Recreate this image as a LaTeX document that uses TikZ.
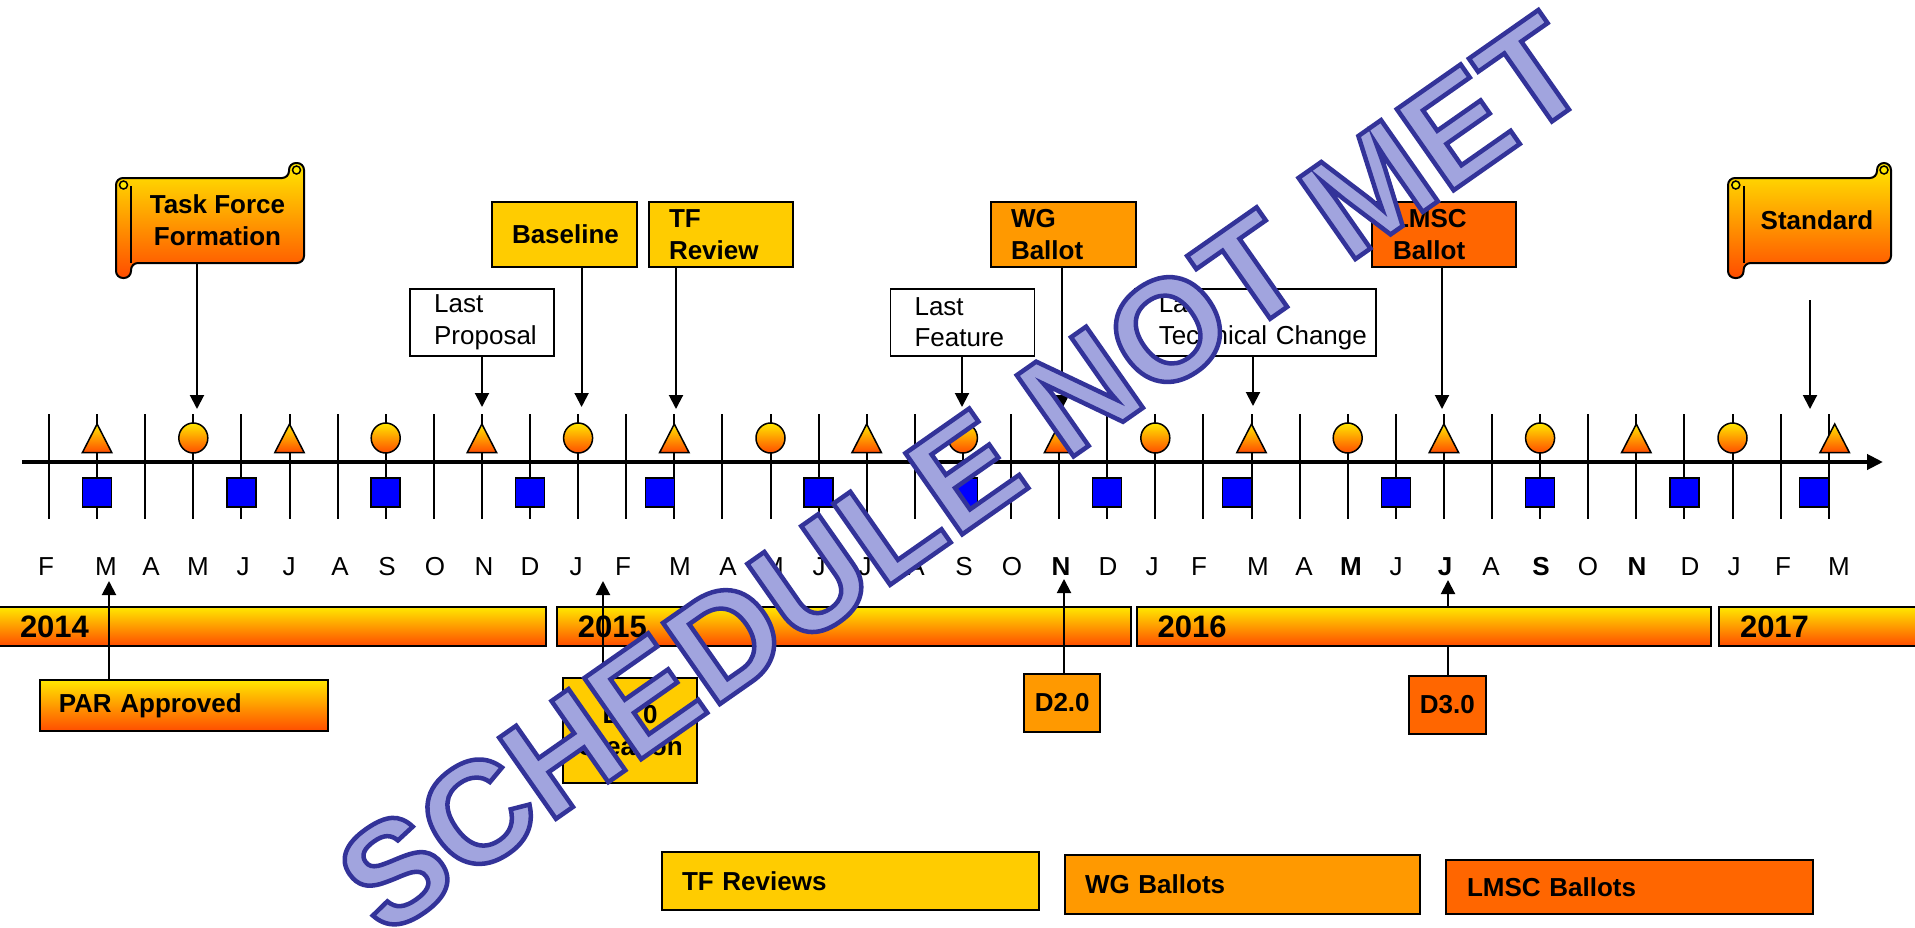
\documentclass[tikz,border=0pt]{standalone}
\usepackage{fontspec}
\setmainfont{Liberation Sans}
\usetikzlibrary{arrows.meta}
\definecolor{TlGold}{HTML}{FFCC00}
\definecolor{TlOrange}{HTML}{FF9900}
\definecolor{TlRed}{HTML}{FF6600}
\definecolor{TlYellow}{HTML}{FFE800}
\definecolor{TlFlame}{HTML}{FF4C00}
\definecolor{TlBlue}{HTML}{0000FF}
\definecolor{TlLilac}{HTML}{A1A4DE}
\definecolor{TlNavy}{HTML}{333399}
% filled and stroked letters for the stamp
\newcommand\wmoutline[1]{\special{pdf:literal direct 0.631 0.643 0.871 rg 0.2 0.2 0.6 RG 4.5 w 2 Tr}#1\special{pdf:literal direct 0 Tr}}

\begin{document}
\begin{tikzpicture}[
    x=1pt, y=-1pt,
    mtick/.style={line width=2pt},
    axisline/.style={line width=4.3pt, -{Triangle[length=16pt,width=15pt]}},
    hot/.style={top color=TlYellow, bottom color=TlFlame},
    marker/.style={draw=black, line width=1.5pt},
    box/.style={
      anchor=north west,
      draw=black,
      line width=2pt,
      inner ysep=0pt,
      inner xsep=20pt,
      align=left,
      font=\fontsize{26}{32.3}\selectfont\bfseries
    },
    card/.style={box, minimum height=64.7pt},
    note/.style={box, fill=white, line width=1.5pt, inner xsep=24pt,
      minimum height=67pt, text width=96pt,
      font=\fontsize{26}{31.7}\selectfont},
    yearbar/.style={box, hot, inner xsep=21pt, minimum height=39pt,
      font=\fontsize{31}{36}\selectfont\bfseries},
    scrolltext/.style={inner sep=0pt, minimum height=86pt, align=center,
      font=\fontsize{26}{32.3}\selectfont\bfseries},
    month/.style={font=\fontsize{26}{30}\selectfont, inner sep=0pt,
      text height=18.6pt, text depth=0pt},
    arr/.style={line width=2pt, -{Triangle[length=14pt,width=14pt]}},
    wmark/.style={rotate=35, inner sep=0pt, text=TlLilac,
      font=\fontsize{144}{150}\selectfont\bfseries}
  ]

  \fill[white] (0,0) rectangle (1915,927);
  \useasboundingbox (0,0) rectangle (1915,927);

  % month grid and time axis
  \foreach \k in {0,...,37} {
    \pgfmathsetmacro\mx{49+48.1*\k}
    \draw[mtick] (\mx,414) -- (\mx,519);
  }
  \coordinate (axL) at (22,462);
  \coordinate (axR) at (1883,462);
  \draw[axisline] (axL) -- (axR);

  % markers above and below the axis
  \foreach \k/\dx in {1/0,5/0,9/0,13/0,17/0,21/0,25/0,29/0,33/0,37/6} {
    \pgfmathsetmacro\mx{49+48.1*\k+\dx}
    \draw[marker, hot] (\mx-14.75,452.7) -- (\mx,424) -- (\mx+14.75,452.7) -- cycle;
  }
  \foreach \k in {3,7,...,35} {
    \pgfmathsetmacro\mx{49+48.1*\k}
    \draw[marker, hot] (\mx,438) ellipse [x radius=14.5, y radius=15];
  }
  \foreach \k/\dx in {1/0,4/0,7/0,10/0,13/-14.5,16/0,19/0,22/0,25/-14.5,28/0,31/0,34/0,37/-14.5} {
    \pgfmathsetmacro\mx{49+48.1*\k+\dx}
    \draw[marker, fill=TlBlue] (\mx-14.5,478) rectangle (\mx+14.5,507);
  }

  % month letters
  \foreach \m/\mx [count=\k from 0] in {F/46,M/106,A/151,M/198,J/243,J/289,A/340,S/387,O/435,N/484,D/530,
      J/576,F/623,M/680,A/728,M/773,J/819,J/865,A/916,S/964,O/1012,\textbf{N}/1061,D/1108,
      J/1152,F/1199,M/1258,A/1304,\textbf{M}/1351,J/1396,\textbf{J}/1445,A/1491,\textbf{S}/1541,O/1588,\textbf{N}/1637,D/1690,
      J/1734,F/1783,M/1839}
    \node[month] (mo\k) at (\mx,566) {\m};

  % scroll banners
  \draw[hot, line width=2pt, rounded corners=7pt] (116,278) -- (116,178) -- (289,178) -- (289,163) -- (304,163) -- (304,263) -- (131,263) -- (131,278) -- cycle;
  \draw[line width=2pt] (131,186) -- (131,263);
  \draw[line width=1.5pt, fill=TlYellow] (123.5,185) circle [radius=4];
  \draw[line width=1.5pt, fill=TlYellow] (296.5,170) circle [radius=4];

  \draw[hot, line width=2pt, rounded corners=7pt] (1728,278) -- (1728,178) -- (1877,178) -- (1877,163) -- (1891,163) -- (1891,263) -- (1743.6,263) -- (1743.6,278) -- cycle;
  \draw[line width=2pt] (1743.6,186) -- (1743.6,263);
  \draw[line width=1.5pt, fill=TlYellow] (1735.8,185) circle [radius=4];
  \draw[line width=1.5pt, fill=TlYellow] (1884,170) circle [radius=4];

  \node[scrolltext, minimum width=173pt] (tforce) at (217.5,220) {Task Force\\Formation};
  \node[scrolltext, minimum width=147pt] (stand) at (1817,220) {Standard};

  % milestone cards above the axis
  \node[card, fill=TlGold, text width=104.5pt, align=center] (base) at (491,201) {Baseline};
  \node[card, fill=TlGold, text width=104pt] (tfrev) at (648,201) {TF\\Review};
  \node[card, fill=TlOrange, text width=104.7pt] (wgbal) at (990,201) {WG\\Ballot};
  \node[card, fill=TlRed, text width=102pt, inner xsep=21pt] (lmbal) at (1371,201) {LMSC\\Ballot};

  \node[note] (lprop) at (409.4,288) {Last\\Proposal};
  \node[note] (lfeat) at (889.8,288) {Last\\Feature};
  \node[note, text width=193pt] (ltech) at (1134,288) {Last\\\mbox{Technical Change}};

  \coordinate (tfTip) at (197,409);
  \coordinate (lpTip) at (482,407);
  \coordinate (blTip) at (581.6,407);
  \coordinate (trTip) at (676,409);
  \coordinate (lfTip) at (962,407);
  \coordinate (wgTip) at (1062,409);
  \coordinate (ltTip) at (1253,406);
  \coordinate (lbTip) at (1442,409);
  \coordinate (stTail) at (1810,300);
  \coordinate (stTip) at (1810,409);

  \draw[arr] (tforce.south -| tfTip) -- (tfTip);
  \draw[arr] (lprop.south -| lpTip) -- (lpTip);
  \draw[arr] (base.south -| blTip) -- (blTip);
  \draw[arr] (tfrev.south -| trTip) -- (trTip);
  \draw[arr] (lfeat.south -| lfTip) -- (lfTip);
  \draw[arr] (wgbal.south -| wgTip) -- (wgTip);
  \draw[arr] (ltech.south -| ltTip) -- (ltTip);
  \draw[arr] (lmbal.south -| lbTip) -- (lbTip);
  \draw[arr] (stTail) -- (stTip);

  % drafts below the axis
  \node[box, hot, text width=250.2pt, inner xsep=19pt, minimum height=51.6pt] (par) at (38.8,678.7) {PAR Approved};
  \node[box, fill=TlGold, inner xsep=0pt, minimum width=134pt, minimum height=105pt, align=center] (dfirst) at (562,677) {D1.0\\Creation};
  \node[box, fill=TlOrange, inner xsep=0pt, minimum width=76.4pt, minimum height=58.3pt, align=center] (dsecond) at (1023,672.7) {D2.0};
  \node[box, fill=TlRed, inner xsep=0pt, minimum width=76.5pt, minimum height=57.7pt, align=center] (dthird) at (1408,675) {D3.0};

  \coordinate (parTip) at (109,581);
  \coordinate (d1Tip) at (603,581);
  \coordinate (d2Tip) at (1064,579);
  \coordinate (d3Tip) at (1448,580);

  \draw[arr] (dthird.north -| d3Tip) -- (d3Tip);

  % year bars
  \node[yearbar, text width=505pt] (y14) at (-2,606) {2014};
  \node[yearbar, text width=532pt] (y15) at (555.8,606) {2015};
  \node[yearbar, text width=532.8pt] (y16) at (1135.6,606) {2016};
  \node[yearbar, text width=168pt] (y17) at (1718,606) {2017};

  \draw[arr] (par.north -| parTip) -- (parTip);
  \draw[arr] (dfirst.north -| d1Tip) -- (d1Tip);
  \draw[arr] (dsecond.north -| d2Tip) -- (d2Tip);

  % legend
  \node[box, fill=TlGold, text width=337pt, minimum height=58pt] (lgtf) at (661,851) {TF Reviews};
  \node[box, fill=TlOrange, text width=315.4pt, minimum height=59pt] (lgwg) at (1064,854) {WG Ballots};
  \node[box, fill=TlRed, text width=325pt, inner xsep=21pt, minimum height=54pt] (lglm) at (1445,859) {LMSC Ballots};

  % stamp across the chart
  \node[wmark] (stamp) at (962,474) {\wmoutline{SCHEDULE NOT MET}};
\end{tikzpicture}
\end{document}
